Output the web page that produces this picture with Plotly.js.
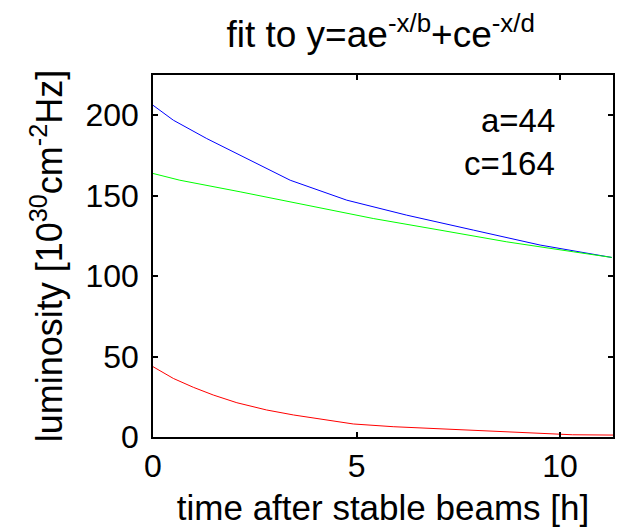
<!DOCTYPE html>
<html>
<head>
<meta charset="utf-8">
<script src="https://cdn.plot.ly/plotly-3.0.1.min.js"></script>
<style>html,body{margin:0;padding:0;background:#fff;}#chart{width:621px;height:531px;}</style>
</head>
<body>
<div id="chart"></div>
<script>
// time after stable beams [h]
const timeTotal = [0, 0.5, 1.32, 2.14, 3.37, 4.76, 6.23, 7.87, 9.51, 11.27];
const lumiTotal = [206.2, 196.9, 185.5, 175.2, 159.6, 147.2, 137.9, 128.6, 119.3, 111.6];

const timeSlow = [0, 0.66, 2.14, 3.78, 5.41, 7.05, 8.69, 10.33, 11.27];
const lumiSlow = [163.8, 159.6, 152.4, 144.1, 135.8, 128.6, 121.3, 115.1, 111.6];

const timeFast = [0, 0.5, 0.99, 1.48, 2.06, 2.79, 3.45, 4.27, 4.92, 5.9, 7.05, 8.69, 10.3, 11.3];
const lumiFast = [43.7, 36.4, 30.9, 26.1, 21.3, 16.8, 13.7, 10.6, 8.1, 6.4, 5.0, 3.1, 1.4, 1.2];

const xTicks = [0, 5, 10];
const yTicks = [0, 50, 100, 150, 200];
const fitLabels = ['a=44', 'c=164'];
const fitLabelY = [197, 170];

const FONT = 'Liberation Sans, Arial, sans-serif';

const traces = [
  {x: timeTotal, y: lumiTotal, mode: 'lines', line: {color: '#0000ff', width: 1}, hoverinfo: 'none'},
  {x: timeSlow, y: lumiSlow, mode: 'lines', line: {color: '#00ff00', width: 1}, hoverinfo: 'none'},
  {x: timeFast, y: lumiFast, mode: 'lines', line: {color: '#ff0000', width: 1}, hoverinfo: 'none'}
];

const layout = {
  width: 621, height: 531,
  margin: {l: 153, r: 8, t: 75, b: 94},
  paper_bgcolor: '#fff', plot_bgcolor: '#fff',
  showlegend: false,
  font: {family: FONT, color: '#000', size: 32},
  title: {text: 'fit to y=ae<sup>-x/b</sup>+ce<sup>-x/d</sup>', x: 0.613, xanchor: 'center', y: 0.935, yanchor: 'middle', font: {size: 37, family: FONT}},
  xaxis: {
    range: [0, 11.3], tickvals: xTicks, ticktext: xTicks.map(String),
    ticks: 'inside', ticklen: 5, tickwidth: 2, tickcolor: '#000',
    showline: true, linecolor: '#000', linewidth: 1.8, mirror: 'ticks',
    showgrid: false, zeroline: false,
    tickfont: {size: 32, family: FONT},
    title: {text: 'time after stable beams [h]', font: {size: 35, family: FONT}, standoff: 12}
  },
  yaxis: {
    range: [0, 225], tickvals: yTicks, ticktext: yTicks.map(String),
    ticks: 'inside', ticklen: 5, tickwidth: 2, tickcolor: '#000',
    showline: true, linecolor: '#000', linewidth: 1.8, mirror: 'ticks',
    showgrid: false, zeroline: false, ticklabelstandoff: 6,
    tickfont: {size: 32, family: FONT},
    title: {text: 'luminosity [10<sup>30</sup>cm<sup>-2</sup>Hz]', font: {size: 36, family: FONT}, standoff: 12}
  },
  annotations: fitLabels.map((t, i) => ({
    text: t, x: 0.878, xref: 'paper', xanchor: 'right', y: fitLabelY[i], yref: 'y', yanchor: 'middle',
    showarrow: false, font: {size: 33, family: FONT}
  }))
};

Plotly.newPlot('chart', traces, layout, {staticPlot: true, displayModeBar: false});
</script>
</body>
</html>
